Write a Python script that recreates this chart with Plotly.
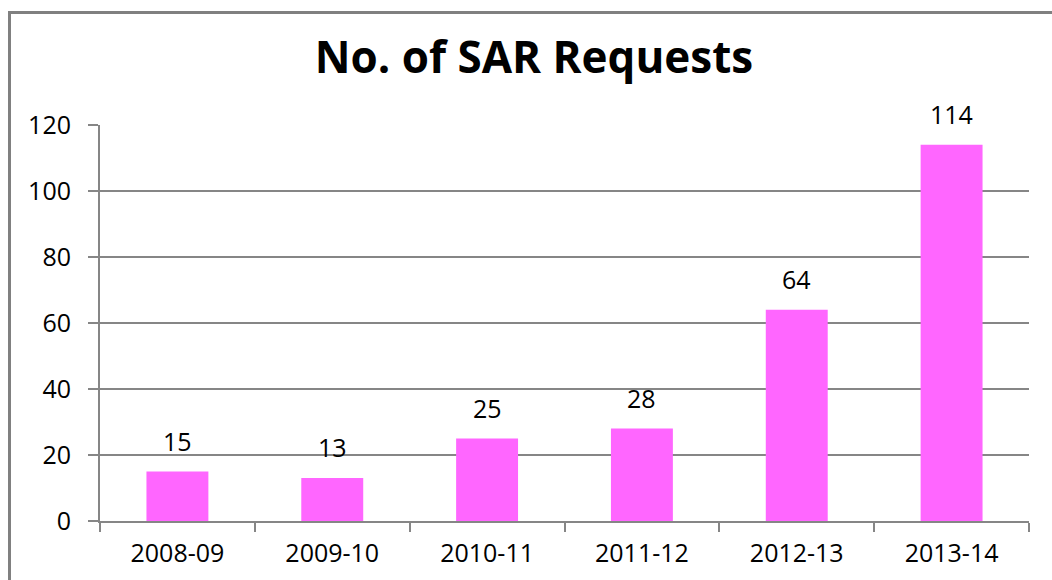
import plotly.graph_objects as go

categories = ["2008-09", "2009-10", "2010-11", "2011-12", "2012-13", "2013-14"]
values = [15, 13, 25, 28, 64, 114]
y_ticks = [0, 20, 40, 60, 80, 100, 120]

W, H = 1052, 580
L, R, T, B = 100, 23, 125, 59
pw, ph = W - L - R, H - T - B
FONT = "Open Sans"
FS = 25

fig = go.Figure()
fig.add_trace(go.Bar(
    x=categories, y=values,
    marker=dict(color="#FF66FF", line=dict(width=0)),
    cliponaxis=False,
))

for c, v in zip(categories, values):
    fig.add_annotation(x=c, y=v, text=str(v), showarrow=False,
                       yanchor="bottom", yshift=12,
                       font=dict(family=FONT, size=FS, color="#000000"))

fig.update_layout(
    width=W, height=H,
    margin=dict(l=L, r=R, t=T, b=B),
    paper_bgcolor="white", plot_bgcolor="white",
    bargap=0.6,
    showlegend=False,
    title=dict(text="<b>No. of SAR Requests</b>", x=534 / W, xanchor="center",
               y=1 - 58 / H, yanchor="middle",
               font=dict(family=FONT, size=44, color="#000000")),
    xaxis=dict(
        type="category", showline=True, linecolor="#868686", linewidth=2,
        ticks="outside", ticklen=9, tickcolor="#868686", tickwidth=2,
        tickson="boundaries", showgrid=False,
        tickfont=dict(family=FONT, size=FS, color="#000000"),
        ticklabelstandoff=9,
    ),
    yaxis=dict(
        range=[0, 120], tickvals=y_ticks, showline=True, linecolor="#868686", linewidth=2,
        ticks="outside", ticklen=10, tickcolor="#868686", tickwidth=2,
        showgrid=True, gridcolor="#868686", gridwidth=2, zeroline=False,
        tickfont=dict(family=FONT, size=FS, color="#000000"),
        ticklabelstandoff=12,
    ),
    shapes=[dict(
        type="rect", xref="paper", yref="paper",
        x0=(9.5 - L) / pw, x1=(W + 20 - L) / pw,
        y0=(H - B - (H + 20)) / ph, y1=(H - B - 12.5) / ph,
        line=dict(color="#808080", width=3), fillcolor="rgba(0,0,0,0)", layer="below",
    )],
)

fig.write_html("out.html", config={"displayModeBar": False},
               post_script="document.body.style.margin='0';document.body.style.overflow='hidden';")
